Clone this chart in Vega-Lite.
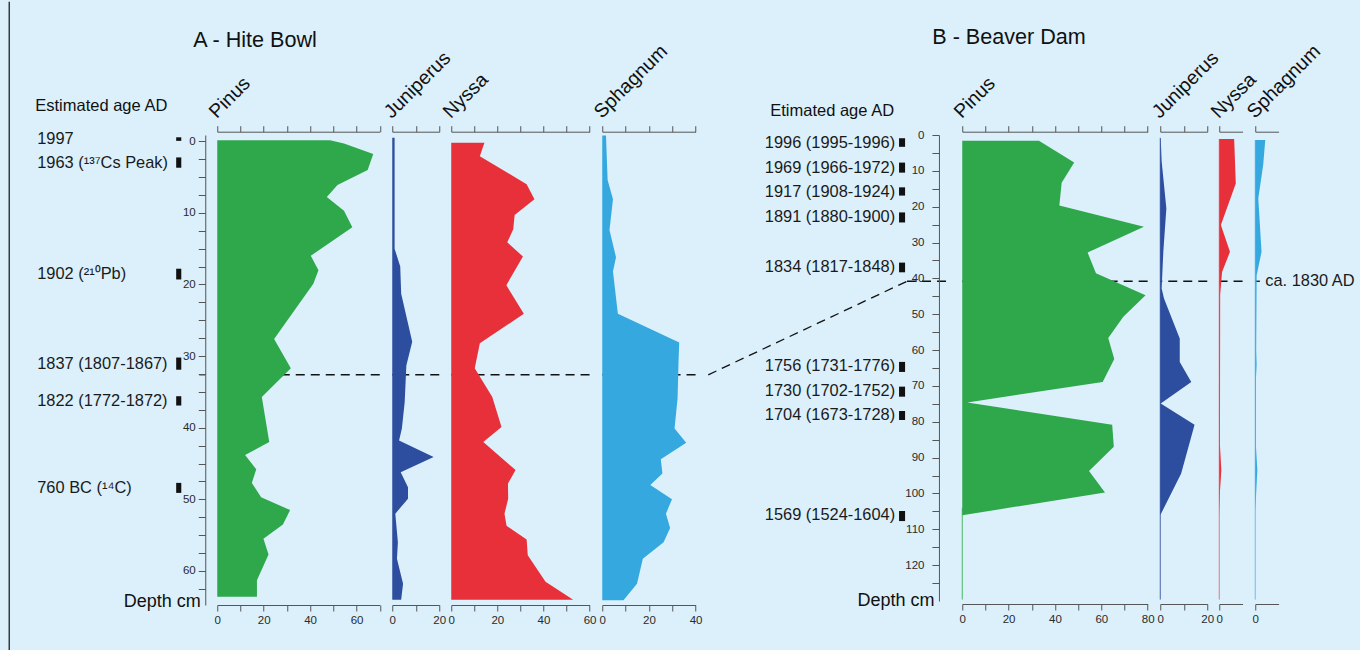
{
  "$schema": "https://vega.github.io/schema/vega-lite/v6.json",
  "background": "#dbf0fb",
  "padding": {"left": 8.25, "top": 0, "right": 8, "bottom": 0},
  "autosize": {"type": "pad"},
  "spacing": 12,
  "bounds": "flush",
  "datasets": {
    "hdrA": [{"label": "Estimated age AD"}],
    "agesA": [
      {"label": "1997", "depth": -0.35, "d0": -0.55, "d1": -0.05},
      {"label": "1963 (¹³⁷Cs Peak)", "depth": 3.0, "d0": 2.26, "d1": 3.7},
      {"label": "1902 (²¹⁰Pb)", "depth": 18.5, "d0": 17.8, "d1": 19.3},
      {"label": "1837 (1807-1867)", "depth": 31.1, "d0": 30.2, "d1": 31.9},
      {"label": "1822 (1772-1872)", "depth": 36.2, "d0": 35.6, "d1": 36.9},
      {"label": "760 BC (¹⁴C)", "depth": 48.4, "d0": 47.7, "d1": 49.1}
    ],
    "agesB": [
      {"label": "1996 (1995-1996)", "depth": 2.1, "d0": 0.9, "d1": 3.3},
      {"label": "1969 (1966-1972)", "depth": 9.1, "d0": 7.7, "d1": 10.5},
      {"label": "1917 (1908-1924)", "depth": 15.8, "d0": 14.6, "d1": 16.9},
      {"label": "1891 (1880-1900)", "depth": 22.8, "d0": 21.6, "d1": 24.4},
      {"label": "1834 (1817-1848)", "depth": 36.8, "d0": 35.6, "d1": 38.3},
      {"label": "1756 (1731-1776)", "depth": 64.4, "d0": 63.3, "d1": 66.1},
      {"label": "1730 (1702-1752)", "depth": 71.4, "d0": 70.2, "d1": 73.0},
      {"label": "1704 (1673-1728)", "depth": 78.1, "d0": 77.0, "d1": 79.5},
      {"label": "1569 (1524-1604)", "depth": 105.9, "d0": 104.9, "d1": 107.7}
    ],
    "A_Pinus": [
      {"depth": -0.15, "pct": 48.6}, {"depth": 0.3, "pct": 54.6}, {"depth": 1.8, "pct": 67.2}, {"depth": 4.0, "pct": 64.8},
      {"depth": 6.1, "pct": 51.8}, {"depth": 7.8, "pct": 47.2}, {"depth": 9.7, "pct": 54.6}, {"depth": 12.0, "pct": 58.2},
      {"depth": 16.0, "pct": 40.3}, {"depth": 18.0, "pct": 43.6}, {"depth": 19.9, "pct": 41.4}, {"depth": 27.6, "pct": 24.5},
      {"depth": 31.7, "pct": 31.7}, {"depth": 35.7, "pct": 19.2}, {"depth": 42.0, "pct": 22.4}, {"depth": 43.8, "pct": 12.0},
      {"depth": 45.8, "pct": 16.8}, {"depth": 47.7, "pct": 14.9}, {"depth": 49.7, "pct": 18.9}, {"depth": 51.5, "pct": 31.4},
      {"depth": 53.5, "pct": 28.3}, {"depth": 55.5, "pct": 19.9}, {"depth": 57.7, "pct": 22.1}, {"depth": 61.3, "pct": 17.1},
      {"depth": 63.6, "pct": 17.1}
    ],
    "A_Juniperus": [
      {"depth": -0.5, "pct": 1.0}, {"depth": 15.0, "pct": 1.0}, {"depth": 17.5, "pct": 3.4}, {"depth": 21.3, "pct": 3.8},
      {"depth": 28.0, "pct": 8.5}, {"depth": 31.3, "pct": 6.0}, {"depth": 36.4, "pct": 5.3}, {"depth": 40.1, "pct": 4.1},
      {"depth": 41.8, "pct": 2.9}, {"depth": 44.1, "pct": 17.6}, {"depth": 46.2, "pct": 3.6}, {"depth": 48.3, "pct": 6.7},
      {"depth": 49.9, "pct": 6.7}, {"depth": 52.0, "pct": 1.3}, {"depth": 56.0, "pct": 2.4}, {"depth": 58.3, "pct": 2.0},
      {"depth": 61.8, "pct": 4.6}, {"depth": 64.0, "pct": 3.8}
    ],
    "A_Nyssa": [
      {"depth": 0.2, "pct": 14.4}, {"depth": 2.1, "pct": 12.4}, {"depth": 6.0, "pct": 32.7}, {"depth": 8.1, "pct": 36.1},
      {"depth": 10.3, "pct": 27.5}, {"depth": 12.3, "pct": 26.9}, {"depth": 14.1, "pct": 24.3}, {"depth": 16.1, "pct": 31.1},
      {"depth": 20.1, "pct": 23.9}, {"depth": 24.1, "pct": 31.5}, {"depth": 28.2, "pct": 12.4}, {"depth": 31.7, "pct": 10.2},
      {"depth": 35.7, "pct": 17.8}, {"depth": 39.9, "pct": 21.8}, {"depth": 42.0, "pct": 13.9}, {"depth": 45.9, "pct": 27.9},
      {"depth": 47.8, "pct": 24.6}, {"depth": 49.9, "pct": 24.7}, {"depth": 52.0, "pct": 23.1}, {"depth": 53.7, "pct": 24.0},
      {"depth": 55.6, "pct": 32.7}, {"depth": 57.8, "pct": 33.2}, {"depth": 61.5, "pct": 40.9}, {"depth": 64.0, "pct": 52.9}
    ],
    "A_Sphagnum": [
      {"depth": -0.8, "pct": 1.6}, {"depth": 5.4, "pct": 2.3}, {"depth": 8.1, "pct": 4.6}, {"depth": 12.4, "pct": 3.1},
      {"depth": 16.2, "pct": 5.9}, {"depth": 18.2, "pct": 4.6}, {"depth": 24.1, "pct": 6.7}, {"depth": 28.1, "pct": 33.0},
      {"depth": 30.8, "pct": 32.7}, {"depth": 35.9, "pct": 32.3}, {"depth": 40.1, "pct": 31.0}, {"depth": 42.1, "pct": 36.0},
      {"depth": 44.4, "pct": 25.1}, {"depth": 46.4, "pct": 25.8}, {"depth": 48.0, "pct": 20.6}, {"depth": 50.0, "pct": 29.9},
      {"depth": 52.0, "pct": 27.3}, {"depth": 54.0, "pct": 29.1}, {"depth": 56.0, "pct": 26.3}, {"depth": 58.3, "pct": 17.4},
      {"depth": 61.8, "pct": 14.9}, {"depth": 64.1, "pct": 9.1}
    ],
    "B_Pinus": [
      {"depth": 1.6, "pct": 33.1}, {"depth": 7.7, "pct": 48.3}, {"depth": 13.3, "pct": 42.9}, {"depth": 19.7, "pct": 41.9},
      {"depth": 25.6, "pct": 78.4}, {"depth": 32.8, "pct": 54.1}, {"depth": 38.6, "pct": 57.7}, {"depth": 44.7, "pct": 79.1},
      {"depth": 50.7, "pct": 69.5}, {"depth": 56.6, "pct": 63.0}, {"depth": 62.5, "pct": 65.6}, {"depth": 68.9, "pct": 60.6},
      {"depth": 74.6, "pct": 2.2}, {"depth": 80.8, "pct": 64.7}, {"depth": 87.0, "pct": 65.4}, {"depth": 93.7, "pct": 54.7},
      {"depth": 99.7, "pct": 61.6}, {"depth": 106.1, "pct": 0}
    ],
    "B_Juniperus": [
      {"depth": 1.0, "pct": 0.2}, {"depth": 7.4, "pct": 0.6}, {"depth": 20.5, "pct": 2.6}, {"depth": 32.6, "pct": 1.3},
      {"depth": 42.8, "pct": 0.6}, {"depth": 45.6, "pct": 1.6}, {"depth": 56.8, "pct": 8.3}, {"depth": 63.3, "pct": 8.3},
      {"depth": 68.9, "pct": 13.2}, {"depth": 74.9, "pct": 0.2}, {"depth": 80.8, "pct": 14.6}, {"depth": 94.4, "pct": 8.9},
      {"depth": 106.1, "pct": 0}
    ],
    "B_Nyssa": [
      {"depth": 1.1, "pct": 6.4}, {"depth": 13.5, "pct": 7.1}, {"depth": 25.1, "pct": 0.7}, {"depth": 32.6, "pct": 4.6},
      {"depth": 38.2, "pct": 1.2}, {"depth": 44.6, "pct": 0.4}, {"depth": 86.5, "pct": 0.3}, {"depth": 93.5, "pct": 0.9},
      {"depth": 99.5, "pct": 0.3}, {"depth": 106.0, "pct": 0}
    ],
    "B_Sphagnum": [
      {"depth": 1.4, "pct": 4.3}, {"depth": 8.4, "pct": 3.4}, {"depth": 17.7, "pct": 1.3}, {"depth": 32.6, "pct": 2.7},
      {"depth": 39.1, "pct": 0.6}, {"depth": 60.0, "pct": 0.4}, {"depth": 64.0, "pct": 0.6}, {"depth": 68.0, "pct": 0.3},
      {"depth": 86.9, "pct": 0.3}, {"depth": 93.4, "pct": 0.9}, {"depth": 105.0, "pct": 0}
    ],
    "note": [{"label": "ca. 1830 AD"}],
    "one": [{}]
  },
  "hconcat": [
    {
      "width": 170, "height": 470,
      "layer": [
        {
          "data": {"name": "one"},
          "mark": {"type": "rule", "color": "#3a3a3a", "strokeWidth": 1.5},
          "encoding": {
            "x": {"datum": -0.1529, "type": "quantitative", "scale": {"domain": [0, 1]}, "axis": null},
            "y": {"datum": -19.48, "type": "quantitative", "scale": {"domain": [-0.87, 64.75], "reverse": true, "nice": false, "zero": false}, "axis": null},
            "y2": {"datum": 71.27}
          }
        },
        {
          "data": {"name": "hdrA"},
          "mark": {"type": "text", "align": "left", "baseline": "middle", "fontSize": 16.5, "color": "#111"},
          "encoding": {
            "x": {"datum": 0, "type": "quantitative", "axis": null},
            "y": {"datum": -4.96, "type": "quantitative", "axis": null},
            "text": {"field": "label"}
          }
        },
        {
          "data": {"name": "agesA"},
          "mark": {"type": "text", "align": "left", "baseline": "middle", "fontSize": 16.4, "dx": 2, "color": "#1a1a1a"},
          "encoding": {
            "x": {"datum": 0, "type": "quantitative", "axis": null},
            "y": {"field": "depth", "type": "quantitative", "axis": null},
            "text": {"field": "label"}
          }
        },
        {
          "data": {"name": "agesA"},
          "mark": {"type": "rect", "color": "#111"},
          "encoding": {
            "x": {"datum": 0.829, "type": "quantitative", "axis": null},
            "x2": {"datum": 0.859},
            "y": {"field": "d0", "type": "quantitative", "axis": null},
            "y2": {"field": "d1"}
          }
        },
        {
          "data": {"name": "one"},
          "mark": {"type": "rule", "strokeDash": [9, 6], "color": "#111", "strokeWidth": 1.3},
          "encoding": {
            "x": {"datum": 0.965, "type": "quantitative", "axis": null},
            "x2": {"datum": 1},
            "y": {"datum": 32.6, "type": "quantitative", "axis": null}
          }
        }
      ]
    },
    {
      "width": 162.5, "height": 470,
      "title": {"text": "A - Hite Bowl", "anchor": "start", "frame": "group", "dx": -24, "fontSize": 21.6, "baseline": "alphabetic", "offset": 4},
      "resolve": {"axis": {"x": "independent", "y": "independent"}},
      "layer": [
        {
          "data": {"name": "one"},
          "mark": {"type": "rule", "strokeDash": [9, 6], "color": "#111", "strokeWidth": 1.3},
          "encoding": {"y": {"datum": 32.6, "type": "quantitative", "axis": null}}
        },
        {
          "data": {"name": "A_Pinus"},
          "mark": {"type": "area", "orient": "horizontal", "color": "#2fa84c"},
          "encoding": {
            "x": {"field": "pct", "type": "quantitative", "scale": {"domain": [0, 70], "nice": false},
              "axis": {"orient": "bottom", "values": [0, 10, 20, 30, 40, 50, 60, 70], "labelExpr": "datum.value % 20 === 0 ? datum.label : ''", "title": null, "offset": 0}},
            "y": {"field": "depth", "type": "quantitative", "scale": {"domain": [-0.87, 64.75], "reverse": true, "nice": false, "zero": false},
              "axis": {"orient": "left", "offset": 12, "values": [0, 2.5, 5, 7.5, 10, 12.5, 15, 17.5, 20, 22.5, 25, 27.5, 30, 32.5, 35, 37.5, 40, 42.5, 45, 47.5, 50, 52.5, 55, 57.5, 60, 62.5],
                "labelExpr": "datum.value % 10 === 0 ? datum.label : ''", "tickSize": 7, "labelPadding": 3,
                "title": "Depth cm", "titleAngle": 0, "titleAlign": "right", "titleBaseline": "middle", "titleX": -5, "titleY": 466, "titleFontSize": 18}}
          }
        },
        {
          "data": {"name": "A_Pinus"},
          "mark": {"type": "area", "orient": "horizontal", "opacity": 0},
          "encoding": {
            "x": {"field": "pct", "type": "quantitative",
              "axis": {"orient": "top", "values": [0, 10, 20, 30, 40, 50, 60, 70], "labels": false, "offset": 3.3, "title": "Pinus", "titleAngle": -45, "titleAlign": "left", "titleBaseline": "alphabetic", "titleX": -1, "titleY": -13, "titleFontSize": 19.5}},
            "y": {"field": "depth", "type": "quantitative", "axis": null}
          }
        }
      ]
    },
    {
      "width": 47, "height": 470,
      "resolve": {"axis": {"x": "independent", "y": "independent"}},
      "layer": [
        {
          "data": {"name": "one"},
          "mark": {"type": "rule", "strokeDash": [9, 6], "color": "#111", "strokeWidth": 1.3},
          "encoding": {"y": {"datum": 32.6, "type": "quantitative", "scale": {"domain": [-0.87, 64.75], "reverse": true, "nice": false, "zero": false}, "axis": null}}
        },
        {
          "data": {"name": "A_Juniperus"},
          "mark": {"type": "area", "orient": "horizontal", "color": "#2d4e9e"},
          "encoding": {
            "x": {"field": "pct", "type": "quantitative", "scale": {"domain": [0, 20], "nice": false},
              "axis": {"orient": "bottom", "values": [0, 10, 20], "labelExpr": "datum.value % 20 === 0 ? datum.label : ''", "title": null, "offset": 0}},
            "y": {"field": "depth", "type": "quantitative", "axis": null}
          }
        },
        {
          "data": {"name": "A_Juniperus"},
          "mark": {"type": "area", "orient": "horizontal", "opacity": 0},
          "encoding": {
            "x": {"field": "pct", "type": "quantitative",
              "axis": {"orient": "top", "values": [0, 10, 20], "labels": false, "offset": 3.3, "title": "Juniperus", "titleAngle": -45, "titleAlign": "left", "titleBaseline": "alphabetic", "titleX": -1, "titleY": -13, "titleFontSize": 19.5}},
            "y": {"field": "depth", "type": "quantitative", "axis": null}
          }
        }
      ]
    },
    {
      "width": 138.3, "height": 470,
      "resolve": {"axis": {"x": "independent", "y": "independent"}},
      "layer": [
        {
          "data": {"name": "one"},
          "mark": {"type": "rule", "strokeDash": [9, 6], "color": "#111", "strokeWidth": 1.3},
          "encoding": {"y": {"datum": 32.6, "type": "quantitative", "scale": {"domain": [-0.87, 64.75], "reverse": true, "nice": false, "zero": false}, "axis": null}}
        },
        {
          "data": {"name": "A_Nyssa"},
          "mark": {"type": "area", "orient": "horizontal", "color": "#e8303a"},
          "encoding": {
            "x": {"field": "pct", "type": "quantitative", "scale": {"domain": [0, 60], "nice": false},
              "axis": {"orient": "bottom", "values": [0, 10, 20, 30, 40, 50, 60], "labelExpr": "datum.value % 20 === 0 ? datum.label : ''", "title": null, "offset": 0}},
            "y": {"field": "depth", "type": "quantitative", "axis": null}
          }
        },
        {
          "data": {"name": "A_Nyssa"},
          "mark": {"type": "area", "orient": "horizontal", "opacity": 0},
          "encoding": {
            "x": {"field": "pct", "type": "quantitative",
              "axis": {"orient": "top", "values": [0, 10, 20, 30, 40, 50, 60], "labels": false, "offset": 3.3, "title": "Nyssa", "titleAngle": -45, "titleAlign": "left", "titleBaseline": "alphabetic", "titleX": -1, "titleY": -13, "titleFontSize": 19.5}},
            "y": {"field": "depth", "type": "quantitative", "axis": null}
          }
        }
      ]
    },
    {
      "width": 93.3, "height": 470,
      "resolve": {"axis": {"x": "independent", "y": "independent"}},
      "layer": [
        {
          "data": {"name": "one"},
          "mark": {"type": "rule", "strokeDash": [9, 6], "color": "#111", "strokeWidth": 1.3},
          "encoding": {"y": {"datum": 32.6, "type": "quantitative", "scale": {"domain": [-0.87, 64.75], "reverse": true, "nice": false, "zero": false}, "axis": null}}
        },
        {
          "data": {"name": "A_Sphagnum"},
          "mark": {"type": "area", "orient": "horizontal", "color": "#35a8df"},
          "encoding": {
            "x": {"field": "pct", "type": "quantitative", "scale": {"domain": [0, 40], "nice": false},
              "axis": {"orient": "bottom", "values": [0, 10, 20, 30, 40], "labelExpr": "datum.value % 20 === 0 ? datum.label : ''", "title": null, "offset": 0}},
            "y": {"field": "depth", "type": "quantitative", "axis": null}
          }
        },
        {
          "data": {"name": "A_Sphagnum"},
          "mark": {"type": "area", "orient": "horizontal", "opacity": 0},
          "encoding": {
            "x": {"field": "pct", "type": "quantitative",
              "axis": {"orient": "top", "values": [0, 10, 20, 30, 40], "labels": false, "offset": 3.3, "title": "Sphagnum", "titleAngle": -45, "titleAlign": "left", "titleBaseline": "alphabetic", "titleX": -1, "titleY": -13, "titleFontSize": 19.5}},
            "y": {"field": "depth", "type": "quantitative", "axis": null}
          }
        }
      ]
    },
    {
      "width": 241.5, "height": 466,
      "title": {"text": "Etimated age AD", "anchor": "start", "frame": "group", "dx": 62, "fontSize": 16.5, "baseline": "alphabetic", "offset": 2.5},
      "layer": [
        {
          "data": {"name": "one"},
          "mark": {"type": "rule", "strokeDash": [9, 6], "color": "#111", "strokeWidth": 1.3},
          "encoding": {
            "x": {"datum": 0, "type": "quantitative", "scale": {"domain": [0, 1]}, "axis": null},
            "x2": {"datum": 0.823},
            "y": {"datum": 66.9, "type": "quantitative", "scale": {"domain": [0, 130], "reverse": true, "nice": false}, "axis": null},
            "y2": {"datum": 40.8}
          }
        },
        {
          "data": {"name": "one"},
          "mark": {"type": "rule", "strokeDash": [9, 6], "color": "#111", "strokeWidth": 1.3},
          "encoding": {
            "x": {"datum": 0.823, "type": "quantitative", "axis": null},
            "x2": {"datum": 1},
            "y": {"datum": 40.8, "type": "quantitative", "axis": null}
          }
        },
        {
          "data": {"name": "agesB"},
          "mark": {"type": "text", "align": "right", "baseline": "middle", "fontSize": 16.4, "color": "#1a1a1a"},
          "encoding": {
            "x": {"datum": 0.774, "type": "quantitative", "axis": null},
            "y": {"field": "depth", "type": "quantitative", "axis": null},
            "text": {"field": "label"}
          }
        },
        {
          "data": {"name": "agesB"},
          "mark": {"type": "rect", "color": "#111"},
          "encoding": {
            "x": {"datum": 0.79, "type": "quantitative", "axis": null},
            "x2": {"datum": 0.815},
            "y": {"field": "d0", "type": "quantitative", "axis": null},
            "y2": {"field": "d1"}
          }
        }
      ]
    },
    {
      "width": 185.4, "height": 466,
      "title": {"text": "B - Beaver Dam", "anchor": "start", "frame": "group", "dx": -30, "fontSize": 21.6, "baseline": "alphabetic", "offset": 7},
      "resolve": {"axis": {"x": "independent", "y": "independent"}},
      "layer": [
        {
          "data": {"name": "one"},
          "mark": {"type": "rule", "strokeDash": [9, 6], "color": "#111", "strokeWidth": 1.3},
          "encoding": {"y": {"datum": 40.8, "type": "quantitative", "axis": null}}
        },
        {
          "data": {"name": "one"},
          "mark": {"type": "rule", "color": "#4cb865", "strokeWidth": 1},
          "encoding": {
            "x": {"datum": 0, "type": "quantitative", "axis": null},
            "y": {"datum": 104, "type": "quantitative", "axis": null},
            "y2": {"datum": 129.6}
          }
        },
        {
          "data": {"name": "B_Pinus"},
          "mark": {"type": "area", "orient": "horizontal", "color": "#2fa84c"},
          "encoding": {
            "x": {"field": "pct", "type": "quantitative", "scale": {"domain": [0, 80], "nice": false},
              "axis": {"orient": "bottom", "values": [0, 10, 20, 30, 40, 50, 60, 70, 80], "labelExpr": "datum.value % 20 === 0 ? datum.label : ''", "title": null, "offset": 3}},
            "y": {"field": "depth", "type": "quantitative", "scale": {"domain": [0, 130], "reverse": true, "nice": false},
              "axis": {"orient": "left", "offset": 23.3, "values": [0, 5, 10, 15, 20, 25, 30, 35, 40, 45, 50, 55, 60, 65, 70, 75, 80, 85, 90, 95, 100, 105, 110, 115, 120, 125],
                "labelExpr": "datum.value % 10 === 0 ? datum.label : ''", "tickSize": 7, "labelPadding": 8,
                "title": "Depth cm", "titleAngle": 0, "titleAlign": "right", "titleBaseline": "middle", "titleX": -5, "titleY": 465, "titleFontSize": 18}}
          }
        },
        {
          "data": {"name": "B_Pinus"},
          "mark": {"type": "area", "orient": "horizontal", "opacity": 0},
          "encoding": {
            "x": {"field": "pct", "type": "quantitative",
              "axis": {"orient": "top", "values": [0, 10, 20, 30, 40, 50, 60, 70, 80], "labels": false, "offset": 3.3, "title": "Pinus", "titleAngle": -45, "titleAlign": "left", "titleBaseline": "alphabetic", "titleX": -1, "titleY": -13, "titleFontSize": 19.5}},
            "y": {"field": "depth", "type": "quantitative", "axis": null}
          }
        }
      ]
    },
    {
      "width": 47, "height": 466,
      "resolve": {"axis": {"x": "independent", "y": "independent"}},
      "layer": [
        {
          "data": {"name": "one"},
          "mark": {"type": "rule", "strokeDash": [9, 6], "color": "#111", "strokeWidth": 1.3},
          "encoding": {"y": {"datum": 40.8, "type": "quantitative", "scale": {"domain": [0, 130], "reverse": true, "nice": false}, "axis": null}}
        },
        {
          "data": {"name": "one"},
          "mark": {"type": "rule", "color": "#4a64aa", "strokeWidth": 1},
          "encoding": {
            "x": {"datum": 0, "type": "quantitative", "scale": {"domain": [0, 20], "nice": false}, "axis": null},
            "y": {"datum": 0.8, "type": "quantitative", "axis": null},
            "y2": {"datum": 129.6}
          }
        },
        {
          "data": {"name": "B_Juniperus"},
          "mark": {"type": "area", "orient": "horizontal", "color": "#2d4e9e"},
          "encoding": {
            "x": {"field": "pct", "type": "quantitative",
              "axis": {"orient": "bottom", "values": [0, 10, 20], "labelExpr": "datum.value % 20 === 0 ? datum.label : ''", "title": null, "offset": 3}},
            "y": {"field": "depth", "type": "quantitative", "axis": null}
          }
        },
        {
          "data": {"name": "B_Juniperus"},
          "mark": {"type": "area", "orient": "horizontal", "opacity": 0},
          "encoding": {
            "x": {"field": "pct", "type": "quantitative",
              "axis": {"orient": "top", "values": [0, 10, 20], "labels": false, "offset": 3.3, "title": "Juniperus", "titleAngle": -45, "titleAlign": "left", "titleBaseline": "alphabetic", "titleX": -1, "titleY": -13, "titleFontSize": 19.5}},
            "y": {"field": "depth", "type": "quantitative", "axis": null}
          }
        }
      ]
    },
    {
      "width": 23.3, "height": 466,
      "resolve": {"axis": {"x": "independent", "y": "independent"}},
      "layer": [
        {
          "data": {"name": "one"},
          "mark": {"type": "rule", "strokeDash": [9, 6], "color": "#111", "strokeWidth": 1.3},
          "encoding": {"y": {"datum": 40.8, "type": "quantitative", "scale": {"domain": [0, 130], "reverse": true, "nice": false}, "axis": null}}
        },
        {
          "data": {"name": "one"},
          "mark": {"type": "rule", "color": "#ee7378", "strokeWidth": 1},
          "encoding": {
            "x": {"datum": 0, "type": "quantitative", "scale": {"domain": [0, 10], "nice": false}, "axis": null},
            "y": {"datum": 1.1, "type": "quantitative", "axis": null},
            "y2": {"datum": 129.6}
          }
        },
        {
          "data": {"name": "B_Nyssa"},
          "mark": {"type": "area", "orient": "horizontal", "color": "#e8303a"},
          "encoding": {
            "x": {"field": "pct", "type": "quantitative",
              "axis": {"orient": "bottom", "values": [0], "title": null, "offset": 3}},
            "y": {"field": "depth", "type": "quantitative", "axis": null}
          }
        },
        {
          "data": {"name": "B_Nyssa"},
          "mark": {"type": "area", "orient": "horizontal", "opacity": 0},
          "encoding": {
            "x": {"field": "pct", "type": "quantitative",
              "axis": {"orient": "top", "values": [0], "labels": false, "offset": 3.3, "title": "Nyssa", "titleAngle": -45, "titleAlign": "left", "titleBaseline": "alphabetic", "titleX": -1, "titleY": -13, "titleFontSize": 19.5}},
            "y": {"field": "depth", "type": "quantitative", "axis": null}
          }
        }
      ]
    },
    {
      "width": 23.3, "height": 466,
      "resolve": {"axis": {"x": "independent", "y": "independent"}},
      "layer": [
        {
          "data": {"name": "one"},
          "mark": {"type": "rule", "strokeDash": [9, 6], "color": "#111", "strokeWidth": 1.3},
          "encoding": {
            "x": {"datum": 0, "type": "quantitative", "scale": {"domain": [0, 10], "nice": false}, "axis": null},
            "x2": {"datum": 2},
            "y": {"datum": 40.8, "type": "quantitative", "scale": {"domain": [0, 130], "reverse": true, "nice": false}, "axis": null}
          }
        },
        {
          "data": {"name": "one"},
          "mark": {"type": "rule", "color": "#6cbfe9", "strokeWidth": 1},
          "encoding": {
            "x": {"datum": 0, "type": "quantitative", "axis": null},
            "y": {"datum": 1.4, "type": "quantitative", "axis": null},
            "y2": {"datum": 129.6}
          }
        },
        {
          "data": {"name": "B_Sphagnum"},
          "mark": {"type": "area", "orient": "horizontal", "color": "#35a8df"},
          "encoding": {
            "x": {"field": "pct", "type": "quantitative",
              "axis": {"orient": "bottom", "values": [0], "title": null, "offset": 3}},
            "y": {"field": "depth", "type": "quantitative", "axis": null}
          }
        },
        {
          "data": {"name": "B_Sphagnum"},
          "mark": {"type": "area", "orient": "horizontal", "opacity": 0},
          "encoding": {
            "x": {"field": "pct", "type": "quantitative",
              "axis": {"orient": "top", "values": [0], "labels": false, "offset": 3.3, "title": "Sphagnum", "titleAngle": -45, "titleAlign": "left", "titleBaseline": "alphabetic", "titleX": -1, "titleY": -13, "titleFontSize": 19.5}},
            "y": {"field": "depth", "type": "quantitative", "axis": null}
          }
        },
        {
          "data": {"name": "note"},
          "mark": {"type": "text", "align": "left", "baseline": "middle", "fontSize": 16.4, "color": "#1a1a1a"},
          "encoding": {
            "x": {"datum": 4.3, "type": "quantitative", "axis": null},
            "y": {"datum": 40.8, "type": "quantitative", "axis": null},
            "text": {"field": "label"}
          }
        }
      ]
    }
  ],
  "config": {
    "font": "Liberation Sans",
    "view": {"stroke": null},
    "title": {"fontWeight": "normal", "color": "#111", "font": "Liberation Sans"},
    "axis": {
      "grid": false, "domainColor": "#555", "tickColor": "#555", "domainWidth": 1, "tickWidth": 1, "tickSize": 6,
      "labelColor": "#2a2a2a", "labelFontSize": 11.5, "labelFont": "Liberation Sans", "labelPadding": 3,
      "labelFlush": false, "labelOverlap": false, "labelBound": false,
      "titleFont": "Liberation Sans", "titleFontWeight": "normal", "titleColor": "#111"
    }
  }
}
